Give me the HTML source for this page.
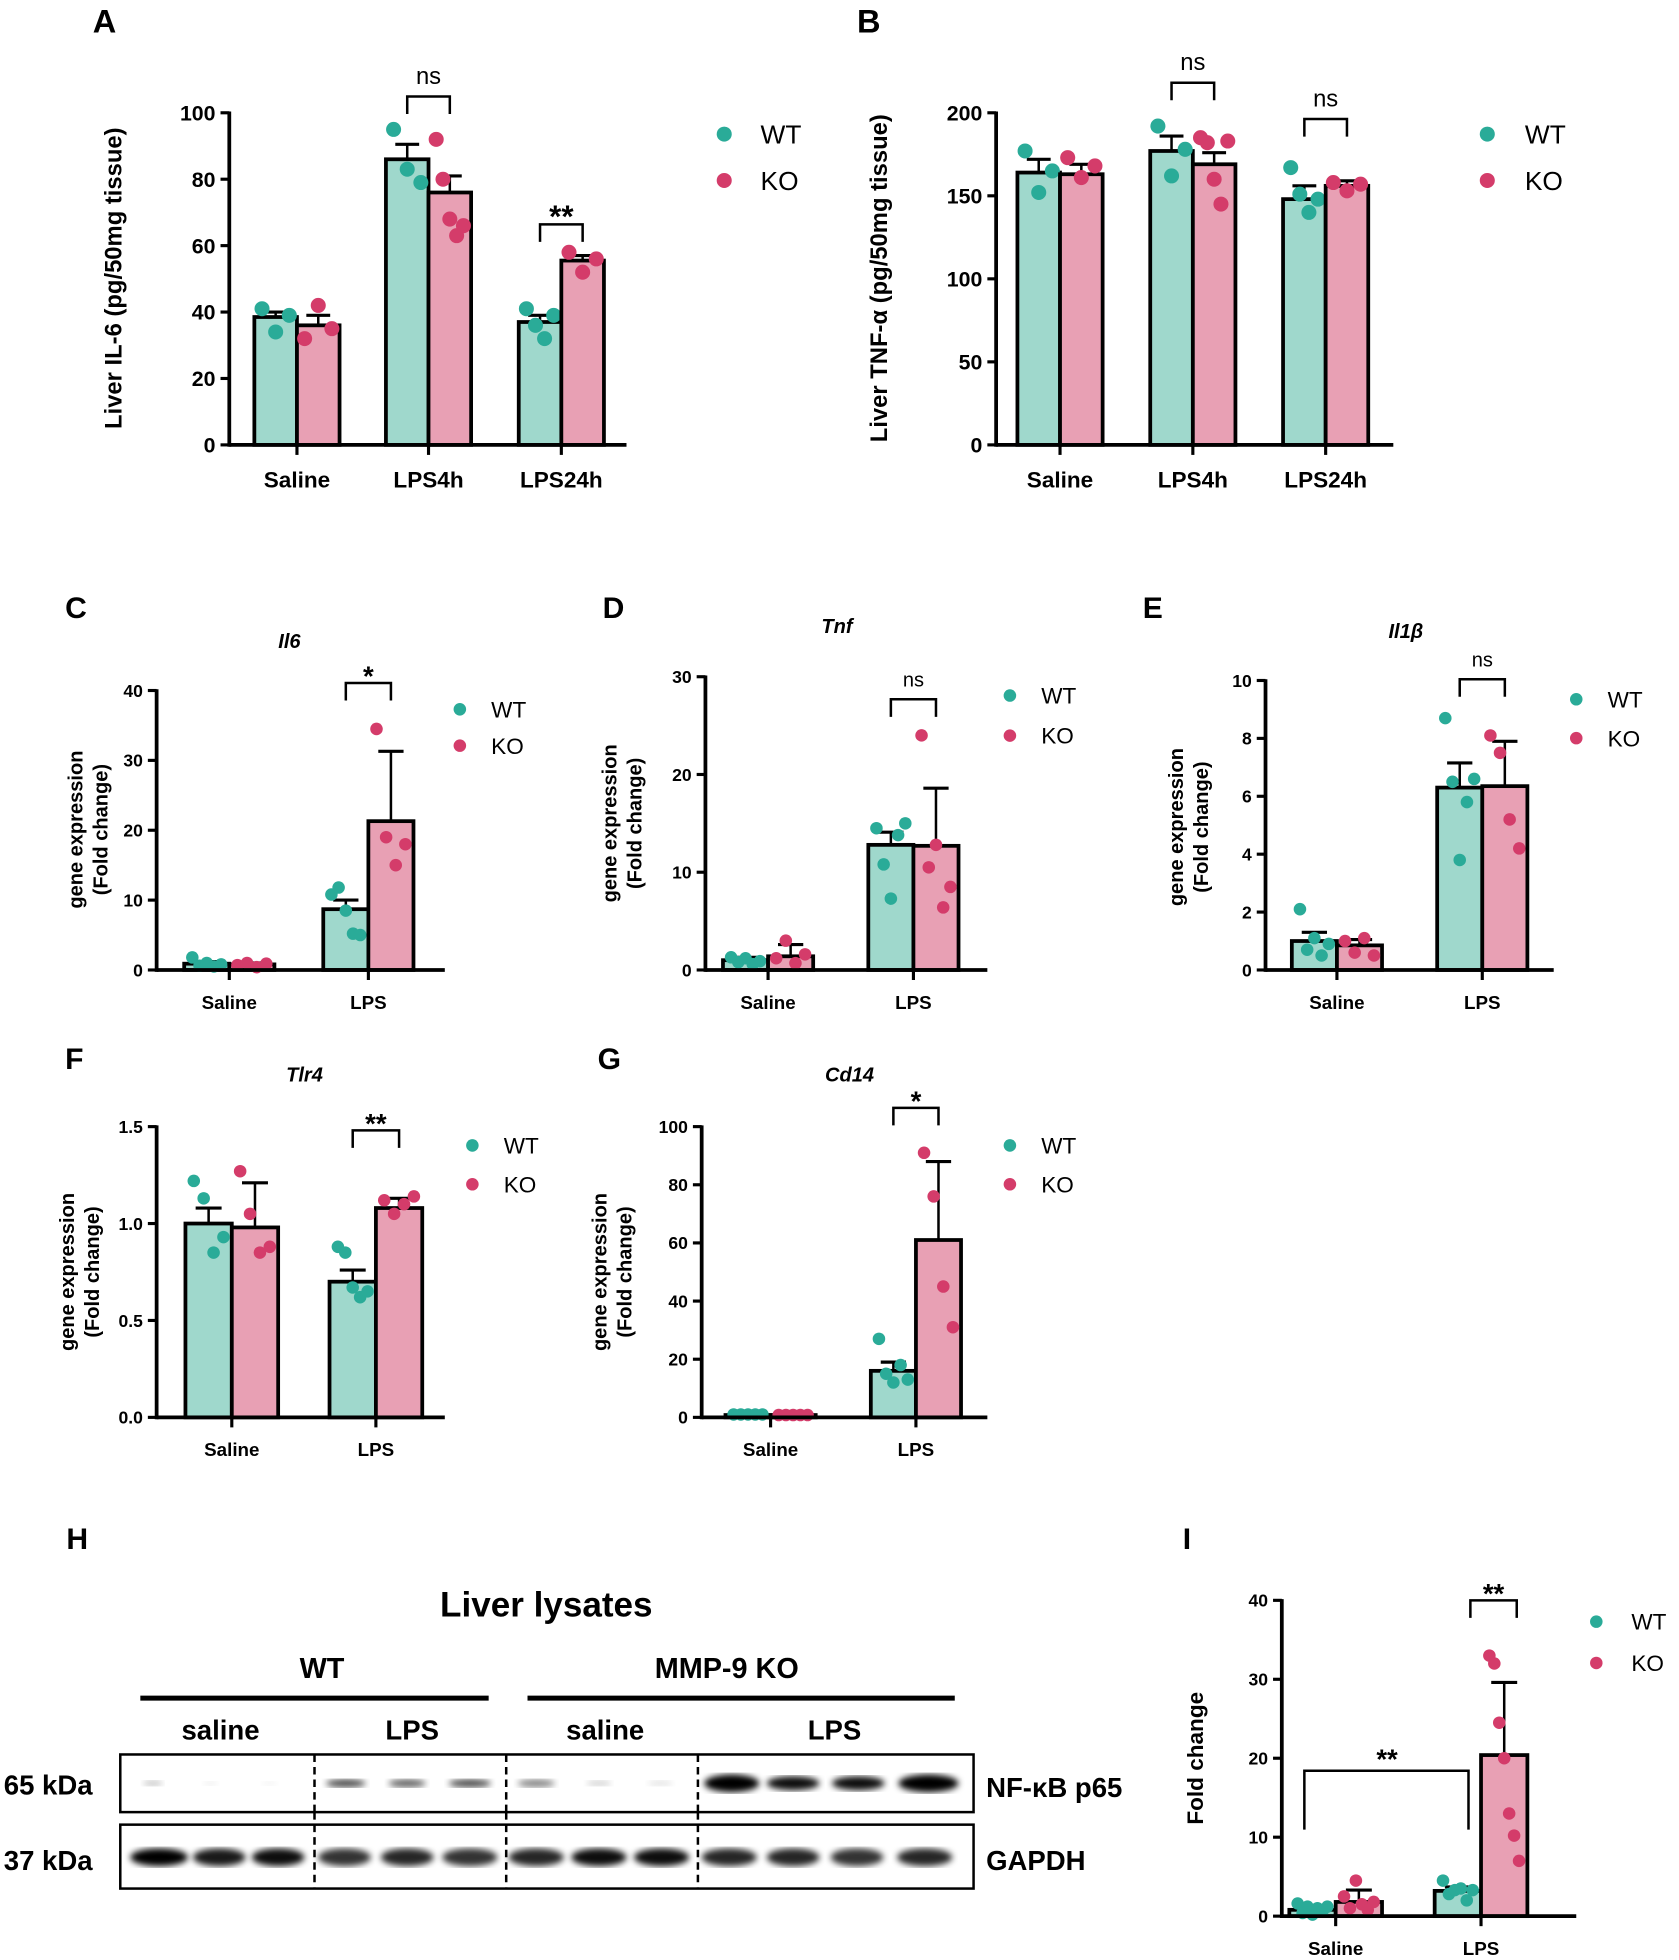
<!DOCTYPE html>
<html><head><meta charset="utf-8"><style>
html,body{margin:0;padding:0;background:#fff;}
svg{display:block;font-family:"Liberation Sans",Arial,sans-serif;}
</style></head><body>
<svg id="s" width="1679" height="1960" viewBox="0 0 1340 1564" preserveAspectRatio="none" xmlns="http://www.w3.org/2000/svg"></svg>
<script>
const S=document.getElementById('s');const NS='http://www.w3.org/2000/svg';
function el(t,a,txt){const e=document.createElementNS(NS,t);for(const k in a)e.setAttribute(k,a[k]);if(txt!==undefined)e.textContent=txt;S.appendChild(e);return e;}
function line(x1,y1,x2,y2,w,c){return el('line',{x1,y1,x2,y2,stroke:c||'#000','stroke-width':w||2});}
function txt(x,y,s,o){o=o||{};return el('text',Object.assign({x,y,'font-size':o.fs||16,'font-weight':o.fw||'bold','text-anchor':o.a||'middle','font-style':o.it||'normal',fill:'#000'},o.tr?{transform:o.tr}:{}),s);}
const WTF='#9fd8cc',KOF='#e8a0b4',WTD='#2aab98',KOD='#d43c6a';
function chart(c){
 const sc=(c.y0-c.ytop)/c.vmax;const Y=v=>c.y0-v*sc;
 // bars
 c.groups.forEach(g=>{
  [[g.wt,-1,WTF,WTD],[g.ko,0,KOF,KOD]].forEach(([d,side,f,dc])=>{
   const x=g.cx+side*c.bw;const top=Y(d[0]);
   el('rect',{x,y:top,width:c.bw,height:c.y0-top,fill:f,stroke:'#000','stroke-width':c.lw||3});
   const ex=x+c.bw/2;line(ex,top,ex,Y(d[0]+d[1]),2);line(ex-c.bw*0.28,Y(d[0]+d[1]),ex+c.bw*0.28,Y(d[0]+d[1]),2.5);
   const n=d[2].length;d[2].forEach((v,i)=>{const px=x+c.bw*(n==1?0.5:0.18+0.64*i/(n-1));el('circle',{cx:px,cy:Y(v),r:c.r||5.5,fill:dc});});
  });
 });
 // axes
 line(c.ax,c.ytop-1,c.ax,c.y0+1.5,3);line(c.ax,c.y0,c.xend,c.y0,3);
 c.ticks.forEach(t=>{line(c.ax-7,Y(t),c.ax,Y(t),2.5);txt(c.ax-11,Y(t)+c.fs*0.36,c.tf?c.tf(t):String(t),{fs:c.fs,a:'end'});});
 c.groups.forEach(g=>{line(g.cx,c.y0,g.cx,c.y0+8,2.5);txt(g.cx,c.y0+c.fs+17,g.name,{fs:c.fs+1});});
 // ylabel
 c.yl.forEach((s,i)=>{const x=c.ylx+i*c.ylgap;txt(x,c.ylc,s,{fs:c.ylfs,tr:`rotate(-90 ${x} ${c.ylc})`});});
 // legend
 el('circle',{cx:c.lg[0],cy:c.lg[1],r:c.r||5.5,fill:WTD});el('circle',{cx:c.lg[0],cy:c.lg[2],r:c.r||5.5,fill:KOD});
 txt(c.lg[0]+c.lgd,c.lg[1]+c.lgfs*0.36,'WT',{fs:c.lgfs,fw:'normal',a:'start'});txt(c.lg[0]+c.lgd,c.lg[2]+c.lgfs*0.36,'KO',{fs:c.lgfs,fw:'normal',a:'start'});
 // sig
 (c.sig||[]).forEach(s=>{const yb=s.y;const x1=s.cx-c.bw/2,x2=s.cx+c.bw/2;
  el('polyline',{points:`${x1},${yb+14} ${x1},${yb} ${x2},${yb} ${x2},${yb+14}`,fill:'none',stroke:'#000','stroke-width':2});
  txt(s.cx,yb-(s.t=='ns'?10:6)+(s.t=='ns'?0:8),s.t,{fs:s.t=='ns'?c.fs+2:c.fs+8,fw:s.t=='ns'?'normal':'bold'});});
 if(c.title)txt(c.title[0],c.title[1],c.title[2],{fs:c.fs+2,it:'italic'});
 txt(c.L[0],c.L[1],c.L[2],{fs:c.Lfs||26,a:'start'});
}
// A
chart({ax:183,y0:355,ytop:90,vmax:100,ticks:[0,20,40,60,80,100],xend:500,bw:34,fs:17,r:6,
 groups:[{cx:237,name:'Saline',wt:[38.5,1.5,[41,34,39]],ko:[36,3,[32,42,35]]},
  {cx:342,name:'LPS4h',wt:[86,4.5,[95,83,79]],ko:[76,5,[92,80,68,63,66]]},
  {cx:448,name:'LPS24h',wt:[37,2,[41,36,32,39]],ko:[55.5,1.5,[58,52,56]]}],
 sig:[{cx:342,y:77,t:'ns'},{cx:448,y:179,t:'**'}],
 yl:['Liver IL-6 (pg/50mg tissue)'],ylx:97,ylgap:0,ylc:222,ylfs:19,lg:[578,107,144],lgd:29,lgfs:21,L:[74,26,'A']});
// B
chart({ax:795,y0:355,ytop:90,vmax:200,ticks:[0,50,100,150,200],xend:1112,bw:34,fs:17,r:6,
 groups:[{cx:846,name:'Saline',wt:[164,8,[177,152,165]],ko:[163,6,[173,161,168]]},
  {cx:952,name:'LPS4h',wt:[177,9,[192,162,178]],ko:[169,7,[185,182,160,145,183]]},
  {cx:1058,name:'LPS24h',wt:[148,8,[167,151,140,148]],ko:[156,3,[158,153,157]]}],
 sig:[{cx:952,y:66,t:'ns'},{cx:1058,y:95,t:'ns'}],
 yl:['Liver TNF-α (pg/50mg tissue)'],ylx:708,ylgap:0,ylc:222,ylfs:19,lg:[1187,107,144],lgd:30,lgfs:21,L:[684,26,'B']});
const small={fs:14,r:5,lgd:25,lgfs:18,ylfs:16,ylgap:20,Lfs:24};
// C
chart(Object.assign({},small,{ax:125,y0:774,ytop:551,vmax:40,ticks:[0,10,20,30,40],xend:355,bw:36,
 groups:[{cx:183,name:'Saline',wt:[0.9,0.3,[1.8,0.6,1,0.5,0.8]],ko:[0.8,0.2,[0.7,1,0.4,0.9]]},
  {cx:294,name:'LPS',wt:[8.7,1.3,[10.8,11.8,8.5,5.2,5]],ko:[21.3,10,[34.5,19,15,18]]}],
 sig:[{cx:294,y:545,t:'*'}],title:[231,517,'Il6'],
 yl:['gene expression','(Fold change)'],ylx:66,ylc:662,lg:[367,566,595],L:[52,493,'C']}));
// D
chart(Object.assign({},small,{ax:563,y0:774,ytop:540,vmax:30,ticks:[0,10,20,30],xend:788,bw:36,
 groups:[{cx:613,name:'Saline',wt:[1,0.3,[1.3,0.8,1.2,0.6,0.9]],ko:[1.4,1.2,[1.2,3,0.7,1.6]]},
  {cx:729,name:'LPS',wt:[12.8,1.3,[14.5,10.8,7.3,13.8,15]],ko:[12.7,5.9,[24,10.5,12.8,6.4,8.5]]}],
 sig:[{cx:729,y:558,t:'ns'}],title:[668,505,'Tnf'],
 yl:['gene expression','(Fold change)'],ylx:492,ylc:657,lg:[806,555,587],L:[481,493,'D']}));
// E
chart(Object.assign({},small,{ax:1010,y0:774,ytop:543,vmax:10,ticks:[0,2,4,6,8,10],xend:1240,bw:36,
 groups:[{cx:1067,name:'Saline',wt:[1.0,0.3,[2.1,0.7,1.1,0.5,0.9]],ko:[0.85,0.2,[1,0.6,1.1,0.5]]},
  {cx:1183,name:'LPS',wt:[6.3,0.85,[8.7,6.5,3.8,5.8,6.6]],ko:[6.35,1.55,[8.1,7.5,5.2,4.2]]}],
 sig:[{cx:1183,y:542,t:'ns'}],title:[1122,509,'Il1β'],
 yl:['gene expression','(Fold change)'],ylx:944,ylc:660,lg:[1258,558,589],L:[912,493,'E']}));
// F
chart(Object.assign({},small,{ax:125,y0:1131,ytop:899,vmax:1.5,ticks:[0,0.5,1,1.5],tf:t=>t.toFixed(1),xend:355,bw:37,
 groups:[{cx:185,name:'Saline',wt:[1.0,0.08,[1.22,1.13,0.85,0.93]],ko:[0.98,0.23,[1.27,1.05,0.85,0.88]]},
  {cx:300,name:'LPS',wt:[0.70,0.06,[0.88,0.85,0.67,0.62,0.65]],ko:[1.08,0.05,[1.12,1.05,1.1,1.14]]}],
 sig:[{cx:300,y:902,t:'**'}],title:[243,863,'Tlr4'],
 yl:['gene expression','(Fold change)'],ylx:59,ylc:1015,lg:[377,914,945],L:[52,853,'F']}));
// G
chart(Object.assign({},small,{ax:560,y0:1131,ytop:899,vmax:100,ticks:[0,20,40,60,80,100],xend:788,bw:36,
 groups:[{cx:615,name:'Saline',wt:[0.8,0.2,[1,1,1,1,1]],ko:[0.8,0.2,[0.8,0.8,0.8,0.8,0.8]]},
  {cx:731,name:'LPS',wt:[16,3,[27,15,12,18,13]],ko:[61,27,[91,76,45,31]]}],
 sig:[{cx:731,y:884,t:'*'}],title:[678,863,'Cd14'],
 yl:['gene expression','(Fold change)'],ylx:484,ylc:1015,lg:[806,914,945],L:[477,853,'G']}));
// I
chart(Object.assign({},small,{ax:1023,y0:1529,ytop:1277,vmax:40,ticks:[0,10,20,30,40],xend:1258,bw:37,
 groups:[{cx:1066,name:'Saline',wt:[0.8,0.3,[1.6,0.4,1.2,0.2,1,0.6,1.2]],ko:[1.8,1.5,[2.5,1,4.5,1.5,0.8,1.8]]},
  {cx:1182,name:'LPS',wt:[3.2,0.5,[4.5,2.8,3.3,3.5,2,3.3]],ko:[20.4,9.2,[33,32,24.5,20,13,10.2,7]]}],
 sig:[{cx:1192,y:1277,t:'**'}],
 yl:['Fold change'],ylx:960,ylgap:0,ylc:1403,ylfs:18,lg:[1274,1294,1327],lgd:28,L:[944,1236,'I']}));
// big bracket in I
el('polyline',{points:'1041,1460 1041,1413 1172,1413 1172,1460',fill:'none',stroke:'#000','stroke-width':2});
txt(1107,1411,'**',{fs:22});
// H blot
txt(53,1236,'H',{fs:24,a:'start'});
txt(436,1290,'Liver lysates',{fs:28});
txt(257,1339,'WT',{fs:23});txt(580,1339,'MMP-9 KO',{fs:23});
line(112,1355,390,1355,4);line(421,1355,762,1355,4);
txt(176,1388,'saline',{fs:22});txt(329,1388,'LPS',{fs:22});txt(483,1388,'saline',{fs:22});txt(666,1388,'LPS',{fs:22});
el('rect',{x:96,y:1400,width:681,height:46,fill:'#fff',stroke:'#000','stroke-width':2});
el('rect',{x:96,y:1456,width:681,height:51,fill:'#fff',stroke:'#000','stroke-width':2});
const defs=el('defs',{});
defs.innerHTML='<filter id="b"><feGaussianBlur stdDeviation="2.5"/></filter>';
const p65=[[122,8,0.25,2],[168,6,0.08,1.5],[215,6,0.06,1.5],[276,16,0.75,3],[325,15,0.65,3],[375,17,0.75,3],[428,15,0.5,3],[478,10,0.2,2],[527,10,0.12,2],[584,22,1,7],[633,21,0.95,5.5],[685,21,0.95,5.5],[741,24,1,7]];
p65.forEach(([x,rx,o,ry])=>el('ellipse',{cx:x,cy:1423,rx,ry,fill:'#000','fill-opacity':o,filter:'url(#b)'}));
const gap=[[127,23,1],[175,21,0.9],[222,21,0.95],[275,21,0.8],[325,21,0.85],[375,22,0.8],[428,22,0.85],[478,22,0.95],[528,22,0.95],[582,22,0.85],[633,21,0.85],[684,21,0.8],[738,22,0.85]];
gap.forEach(([x,rx,o])=>el('ellipse',{cx:x,cy:1482,rx,ry:7,fill:'#000','fill-opacity':o,filter:'url(#b)'}));
[251,404,557].forEach(x=>{line(x,1400,x,1446,2).setAttribute('stroke-dasharray','6,4');line(x,1456,x,1507,2).setAttribute('stroke-dasharray','6,4');line(x,1446,x,1456,2).setAttribute('stroke-dasharray','6,4');});
txt(3,1432,'65 kDa',{fs:22,a:'start'});txt(3,1492,'37 kDa',{fs:22,a:'start'});
txt(787,1434,'NF-κB p65',{fs:22,a:'start'});txt(787,1492,'GAPDH',{fs:22,a:'start'});
</script>
</body></html>
